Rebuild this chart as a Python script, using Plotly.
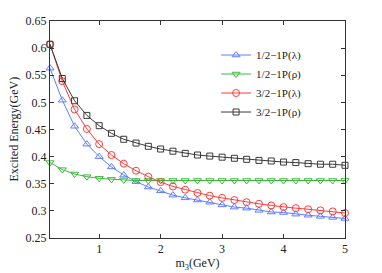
import plotly.graph_objects as go

m3 = [0.2, 0.4, 0.6, 0.8, 1.0, 1.2, 1.4, 1.6, 1.8, 2.0, 2.2, 2.4, 2.6, 2.8, 3.0,
      3.2, 3.4, 3.6, 3.8, 4.0, 4.2, 4.4, 4.6, 4.8, 5.0]

half_lambda = [0.563, 0.504, 0.456, 0.423, 0.400, 0.381, 0.366, 0.354, 0.344, 0.337,
               0.329, 0.324, 0.320, 0.316, 0.311, 0.307, 0.305, 0.301, 0.298, 0.297,
               0.294, 0.292, 0.290, 0.288, 0.286]
half_rho = [0.389, 0.376, 0.368, 0.363, 0.360, 0.358, 0.357, 0.356, 0.356, 0.356,
            0.356, 0.356, 0.356, 0.356, 0.356, 0.356, 0.356, 0.356, 0.356, 0.356,
            0.356, 0.356, 0.356, 0.356, 0.356]
threehalf_lambda = [0.607, 0.539, 0.487, 0.451, 0.423, 0.403, 0.387, 0.374, 0.363, 0.353,
                    0.345, 0.339, 0.333, 0.328, 0.324, 0.320, 0.316, 0.313, 0.310, 0.307,
                    0.305, 0.303, 0.301, 0.299, 0.296]
threehalf_rho = [0.607, 0.544, 0.503, 0.476, 0.457, 0.443, 0.432, 0.425, 0.419, 0.414,
                 0.410, 0.406, 0.403, 0.401, 0.399, 0.397, 0.395, 0.393, 0.392, 0.390,
                 0.389, 0.387, 0.386, 0.386, 0.384]

names = ["1/2\u22121P(\u03bb)", "1/2\u22121P(\u03c1)", "3/2\u22121P(\u03bb)", "3/2\u22121P(\u03c1)"]
series = [half_lambda, half_rho, threehalf_lambda, threehalf_rho]
colors = ["#5f7cff", "#3cb83c", "#ff3b3b", "#3a3a3a"]
symbols = ["triangle-up-open", "triangle-down-open", "circle-open", "square-open"]
sizes = [7, 7, 7, 6]

font_family = "Liberation Serif, Times New Roman, serif"
y_title = "Excited Energy(GeV)"
x_title = "m<sub>3</sub>(GeV)"

fig = go.Figure()
for n, s, c, sym, sz in zip(names, series, colors, symbols, sizes):
    fig.add_trace(go.Scatter(
        x=m3, y=s, name=n, mode="lines+markers",
        line=dict(color=c, width=1),
        marker=dict(symbol=sym, size=sz, color=c, line=dict(width=1, color=c)),
        cliponaxis=False,
    ))

# The page body has an 8px margin, so the figure is sized/margined to compensate.
fig.update_layout(
    width=374, height=265,
    margin=dict(l=42, r=37, t=13, b=35),
    paper_bgcolor="white", plot_bgcolor="white",
    font=dict(family=font_family, size=12, color="#222"),
    showlegend=True,
    legend=dict(x=0.563, y=0.91, xanchor="left", yanchor="top",
                bgcolor="rgba(255,255,255,0)", borderwidth=0,
                font=dict(family=font_family, size=11, color="#222"),
                tracegroupgap=0, itemwidth=30),
    annotations=[dict(text=y_title, textangle=-90, xref="paper", yref="paper",
                      x=0, y=0.5, xanchor="center", yanchor="middle", xshift=-37,
                      showarrow=False, font=dict(family=font_family, size=12, color="#222"))],
)
fig.update_xaxes(
    range=[0.2, 5], tickvals=[1, 2, 3, 4, 5], ticktext=["1", "2", "3", "4", "5"],
    ticks="inside", ticklen=4, tickcolor="#333", showline=True, linecolor="#333",
    linewidth=1, mirror="ticks", showgrid=False, zeroline=False, automargin=False,
    tickfont=dict(size=12),
    title=dict(text=x_title, standoff=0, font=dict(size=12)),
)
fig.update_yaxes(
    range=[0.25, 0.65], tickvals=[0.25, 0.3, 0.35, 0.4, 0.45, 0.5, 0.55, 0.6, 0.65],
    ticktext=["0.25", "0.3", "0.35", "0.4", "0.45", "0.5", "0.55", "0.6", "0.65"],
    ticks="inside", ticklen=4, tickcolor="#333", showline=True, linecolor="#333",
    linewidth=1, mirror="ticks", showgrid=False, zeroline=False, automargin=False,
    tickfont=dict(size=12),
)

fig.write_html("out.html")
